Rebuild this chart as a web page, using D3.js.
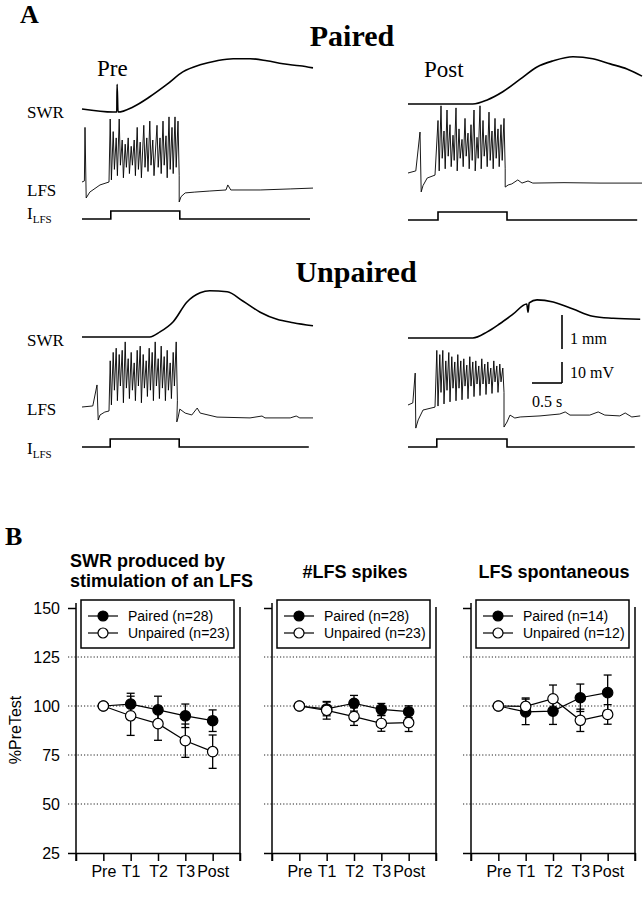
<!DOCTYPE html>
<html>
<head>
<meta charset="utf-8">
<script src="https://cdn.jsdelivr.net/npm/d3@7"></script>
<style>
  body { margin: 0; background: #fff; }
  svg { display: block; }
</style>
</head>
<body>
<svg id="fig" width="643" height="899"></svg>
<script>
// ---------- Panel A data: time in s, SWR in mm, LFS in mV (from rest), I_LFS on/off ----------
const swrPairedPre = [[0,0],[0.52,-0.09],[0.58,-0.09],[0.585,0.73],[0.6,-0.09],[0.85,0.06],[1.13,0.36],[1.42,0.73],[1.68,1.09],[1.97,1.3],[2.25,1.42],[2.52,1.48],[2.8,1.48],[3.08,1.42],[3.35,1.33],[3.63,1.27],[3.85,1.21]];
const swrPairedPost = [[0,0],[1.08,0],[1.32,0.12],[1.58,0.36],[1.87,0.73],[2.15,1.09],[2.42,1.27],[2.75,1.39],[3.08,1.33],[3.37,1.18],[3.65,1.03],[3.9,0.82]];
const swrUnpairedPre = [[0,0],[1.13,0],[1.3,0.15],[1.52,0.45],[1.75,1.03],[1.97,1.3],[2.13,1.36],[2.42,1.33],[2.68,1.06],[2.97,0.73],[3.25,0.52],[3.52,0.42],[3.85,0.33]];
const swrUnpairedPost = [[0,0],[1.08,0],[1.32,0.18],[1.53,0.42],[1.75,0.7],[1.98,1.0],[2.0,0.76],[2.02,1.03],[2.15,1.12],[2.42,1.06],[2.75,0.85],[3.08,0.64],[3.42,0.58],[3.87,0.55]];

// LFS: points before burst, spikes [time, peak, trough], points after burst
const lfsPairedPreStart = [[0,0],[0.04,0.5],[0.05,26],[0.07,-7.6],[0.13,-4.8],[0.3,-1.4],[0.45,0]];
const lfsPairedPreSpikes = [[0.47,30,1],[0.52,24,6],[0.57,21,3],[0.62,30,8],[0.67,20,2],[0.72,18,7],[0.77,21,4],[0.82,17,8],[0.87,20,3],[0.92,26,6],[0.97,19,2],[1.03,27,7],[1.08,21,5],[1.13,29,8],[1.18,20,3],[1.25,27,7],[1.3,21,4],[1.35,29,8],[1.4,22,2],[1.45,31,6],[1.5,26,4],[1.55,31,7],[1.6,29,3]];
const lfsPairedPreEnd = [[1.62,-9.5],[1.65,-7],[1.72,-5.2],[1.88,-4.8],[2.13,-4.3],[2.4,-3.8],[2.43,-1.4],[2.48,-3.8],[2.97,-3.8],[3.47,-3.3],[3.85,-2.9]];

const lfsPairedPostStart = [[0,0],[0.13,1],[0.2,19.5],[0.22,-9],[0.25,-6],[0.32,-2.4],[0.45,-1]];
const lfsPairedPostSpikes = [[0.5,25,1],[0.55,32,7],[0.6,20,2],[0.65,30,8],[0.7,23,3],[0.75,18,6],[0.8,31,1],[0.85,21,7],[0.9,16,3],[0.95,26,8],[1.0,19,2],[1.05,23,6],[1.1,30,1],[1.15,17,7],[1.2,32,2],[1.25,25,8],[1.3,18,3],[1.35,29,6],[1.4,20,2],[1.45,26,7],[1.5,21,3],[1.55,23,6],[1.6,26,2]];
const lfsPairedPostEnd = [[1.62,-6.7],[1.67,-5.7],[1.73,-5.2],[1.83,-3.3],[1.9,-4.8],[2.0,-3.8],[2.08,-4.8],[2.6,-4.6],[3.2,-4.8],[3.9,-4.8]];

const lfsUnpairedPreStart = [[0,0],[0.18,0.5],[0.25,10.5],[0.27,-6.2],[0.3,-3.8],[0.38,-2.4],[0.45,-1.9]];
const lfsUnpairedPreSpikes = [[0.47,22,1],[0.52,26,8],[0.57,28,3],[0.62,25,10],[0.67,27,2],[0.72,31,9],[0.77,23,4],[0.82,26,8],[0.87,21,3],[0.92,27,10],[0.97,29,2],[1.02,25,9],[1.07,22,5],[1.12,28,8],[1.17,26,3],[1.22,31,10],[1.27,23,4],[1.32,29,9],[1.37,24,3],[1.42,27,8],[1.47,21,4],[1.52,26,10],[1.57,31,3]];
const lfsUnpairedPreEnd = [[1.58,-7.1],[1.6,-5.2],[1.63,-1],[1.72,-2.9],[1.83,-3.8],[1.92,-0.5],[1.97,-2.9],[2.25,-4.8],[2.8,-5.2],[3.0,-4.3],[3.05,-5.2],[3.47,-5.2],[3.57,-4.3],[3.63,-5.2],[3.85,-5.2]];

const lfsUnpairedPostStart = [[0,0],[0.08,1],[0.12,15.2],[0.13,-11],[0.17,-7.1],[0.25,-2.4],[0.45,-1]];
const lfsUnpairedPostSpikes = [[0.48,26,-0.5],[0.53,24,6],[0.58,26,0.5],[0.63,21,7],[0.68,25,1.5],[0.73,23,8],[0.78,20.5,2],[0.83,24,8],[0.88,21,2.5],[0.93,22,9],[0.98,19,3],[1.03,23,9],[1.08,20.5,4],[1.13,21,10],[1.18,18.6,4.5],[1.23,22,10],[1.28,19.5,5],[1.33,20.5,10],[1.38,17.6,5.5],[1.43,21,11],[1.48,18.6,6],[1.53,19.5,11],[1.58,17.6,6]];
const lfsUnpairedPostEnd = [[1.6,-10.5],[1.65,-8.1],[1.7,-4.8],[1.78,-6.2],[1.87,-5.7],[2.2,-5.2],[2.53,-4.3],[2.62,-3.3],[2.7,-4.8],[3.03,-4.8],[3.17,-3.3],[3.28,-4.8],[3.53,-5.2],[3.62,-3.8],[3.73,-5.7],[3.87,-5.2]];

const iPairedPre = [[0,0],[0.48,0],[0.48,1],[1.63,1],[1.63,0],[3.8,0]];
const iPairedPost = [[0,0],[0.5,0],[0.5,1],[1.65,1],[1.65,0],[3.82,0]];
const iUnpairedPre = [[0,0],[0.47,0],[0.47,1],[1.62,1],[1.62,0],[3.78,0]];
const iUnpairedPost = [[0,0],[0.48,0],[0.48,1],[1.65,1],[1.65,0],[3.78,0]];

// ---------- Panel B data (% of pre-test, mean and SEM) ----------
const sessions = ["Pre", "T1", "T2", "T3", "Post"];
const yTicks = [150, 125, 100, 75, 50, 25];
const gridValues = [125, 100, 75, 50];

const swrPaired = [100, 101, 98, 95, 92.5];
const swrPairedErr = [0, 5.5, 7, 6, 5.5];
const swrUnpaired = [100, 95, 91, 82.3, 76.7];
const swrUnpairedErr = [0, 10, 8.5, 8.5, 8.5];

const spikesPaired = [100, 98.5, 101.4, 98.3, 97.1];
const spikesPairedErr = [0, 3.5, 4, 3, 3];
const spikesUnpaired = [100, 97.8, 94.6, 91.1, 91.5];
const spikesUnpairedErr = [0, 4.5, 4.5, 4, 4.5];

const spontPaired = [100, 97, 97.4, 104.2, 106.8];
const spontPairedErr = [0, 6.5, 6.8, 7, 9];
const spontUnpaired = [100, 99.8, 103.7, 92.7, 95.7];
const spontUnpairedErr = [0, 4.3, 7, 5.7, 5];

const panelTitles = [["SWR produced by", "stimulation of an LFS"], ["#LFS spikes"], ["LFS spontaneous"]];
const legendPaired = ["Paired (n=28)", "Paired (n=28)", "Paired (n=14)"];
const legendUnpaired = ["Unpaired (n=23)", "Unpaired (n=23)", "Unpaired (n=12)"];

// ---------- drawing ----------
const fig = d3.select("#fig");
const serif = "'Liberation Serif','Times New Roman',serif";
const sans = "'Liberation Sans',Arial,Helvetica,sans-serif";

function label(x, y, txt, size, family, weight, anchor) {
  return fig.append("text")
    .attr("x", x).attr("y", y)
    .attr("font-family", family)
    .attr("font-size", size)
    .attr("font-weight", weight || "normal")
    .attr("text-anchor", anchor || "start")
    .attr("fill", "#000")
    .text(txt);
}

// Panel A headings
label(20, 23, "A", 26, serif, "bold");
label(352, 46, "Paired", 30, serif, "bold", "middle");
label(356, 282, "Unpaired", 30, serif, "bold", "middle");
label(97, 76, "Pre", 23, serif);
label(424, 77, "Post", 23, serif);

// row labels
function rowLabels(ySwr, yLfs, yI) {
  label(27, ySwr, "SWR", 17, serif);
  label(27, yLfs, "LFS", 17, serif);
  const t = label(27, yI, "I", 17, serif);
  t.append("tspan").attr("font-size", 11).attr("dy", 4).text("LFS");
}
rowLabels(118, 196, 219);
rowLabels(346, 415, 454);

const pxPerSec = 60, pxPerMm = 34, pxPerMv = 2.1, pxPerI = 8;

const blocks = [
  {x0: 82,  swrBase: 109, lfsBase: 182, iBase: 219, swr: swrPairedPre,    lfs: [lfsPairedPreStart, lfsPairedPreSpikes, lfsPairedPreEnd],       cur: iPairedPre},
  {x0: 408, swrBase: 104, lfsBase: 173, iBase: 220, swr: swrPairedPost,   lfs: [lfsPairedPostStart, lfsPairedPostSpikes, lfsPairedPostEnd],    cur: iPairedPost},
  {x0: 82,  swrBase: 337, lfsBase: 407, iBase: 447, swr: swrUnpairedPre,  lfs: [lfsUnpairedPreStart, lfsUnpairedPreSpikes, lfsUnpairedPreEnd], cur: iUnpairedPre},
  {x0: 408, swrBase: 338, lfsBase: 405, iBase: 447, swr: swrUnpairedPost, lfs: [lfsUnpairedPostStart, lfsUnpairedPostSpikes, lfsUnpairedPostEnd], cur: iUnpairedPost}
];

let lastScales;
blocks.forEach(b => {
  const x = d3.scaleLinear().domain([0, 4]).range([b.x0, b.x0 + 4 * pxPerSec]);
  const ySwr = d3.scaleLinear().domain([0, 1]).range([b.swrBase, b.swrBase - pxPerMm]);
  const yLfs = d3.scaleLinear().domain([0, 10]).range([b.lfsBase, b.lfsBase - 10 * pxPerMv]);
  const yI = d3.scaleLinear().domain([0, 1]).range([b.iBase, b.iBase - pxPerI]);

  const lfsPts = [
    ...b.lfs[0],
    ...b.lfs[1].flatMap(s => [[s[0], s[1]], [s[0] + 0.02, s[2]]]),
    ...b.lfs[2]
  ];

  fig.append("path")
    .attr("d", d3.line().x(d => x(d[0])).y(d => ySwr(d[1])).curve(d3.curveMonotoneX)(b.swr))
    .attr("fill", "none").attr("stroke", "#000").attr("stroke-width", 1.6);
  fig.append("path")
    .attr("d", d3.line().x(d => x(d[0])).y(d => yLfs(d[1]))(lfsPts))
    .attr("fill", "none").attr("stroke", "#000").attr("stroke-width", 0.9);
  fig.append("path")
    .attr("d", d3.line().x(d => x(d[0])).y(d => yI(d[1]))(b.cur))
    .attr("fill", "none").attr("stroke", "#000").attr("stroke-width", 1.6);

  lastScales = {x, ySwr, yLfs};
});

// scale bars (use scales of the last block)
{
  const {x, ySwr, yLfs} = lastScales;
  const bx = 562;
  const mmLen = ySwr(0) - ySwr(1);
  const mvLen = yLfs(0) - yLfs(10);
  const sLen = x(0.5) - x(0);
  const bars = fig.append("g").attr("stroke", "#000").attr("stroke-width", 1.6);
  bars.append("line").attr("x1", bx).attr("x2", bx).attr("y1", 315).attr("y2", 315 + mmLen);
  bars.append("line").attr("x1", bx).attr("x2", bx).attr("y1", 383 - mvLen).attr("y2", 383);
  bars.append("line").attr("x1", bx - sLen).attr("x2", bx).attr("y1", 383).attr("y2", 383);
  label(570, 344, "1 mm", 16, serif);
  label(570, 378, "10 mV", 16, serif);
  label(532, 407, "0.5 s", 16, serif);
}

// Panel B
label(5, 545, "B", 26, serif, "bold");

const y = d3.scaleLinear().domain([25, 150]).range([853, 608]);
const panelX = [76, 272, 471];
const panelW = 164;
const series = [
  [swrPaired, swrPairedErr, swrUnpaired, swrUnpairedErr],
  [spikesPaired, spikesPairedErr, spikesUnpaired, spikesUnpairedErr],
  [spontPaired, spontPairedErr, spontUnpaired, spontUnpairedErr]
];

panelX.forEach((x0, p) => {
  const x = d3.scaleLinear().domain([0, 6]).range([x0, x0 + panelW]);
  const g = fig.append("g");

  // title
  const titleLines = panelTitles[p];
  if (titleLines.length === 2) {
    titleLines.forEach((t, k) => label(70, 567 + k * 20, t, 18, sans, "bold"));
  } else {
    label(x0 + 83, 578, titleLines[0], 18, sans, "bold", "middle");
  }

  // dotted grid
  g.selectAll(".grid").data(gridValues).enter().append("line")
    .attr("x1", x0 - 8).attr("x2", x0 + panelW)
    .attr("y1", d => y(d)).attr("y2", d => y(d))
    .attr("stroke", "#222").attr("stroke-width", 1).attr("stroke-dasharray", "1.2,2");

  // frame
  const frame = g.append("g").attr("stroke", "#000").attr("stroke-width", 1.5);
  frame.append("line").attr("x1", x0).attr("x2", x0).attr("y1", 603).attr("y2", y(25) + 8);
  frame.append("line").attr("x1", x0 + panelW).attr("x2", x0 + panelW).attr("y1", 607).attr("y2", y(25) + 8);

  // left axis
  const yAxis = d3.axisLeft(y).tickValues([150, 25]).tickSize(8).tickSizeOuter(0).tickPadding(8)
    .tickFormat(p === 0 ? d3.format("d") : () => "");
  const ya = g.append("g").attr("transform", `translate(${x0},0)`).call(yAxis);
  ya.select(".domain").remove();
  ya.selectAll("line").attr("stroke-width", 1.5);
  if (p === 0) {
    const yLab = d3.axisLeft(y).tickValues(gridValues).tickSize(0).tickPadding(16).tickFormat(d3.format("d"));
    const yl = g.append("g").attr("transform", `translate(${x0},0)`).call(yLab);
    yl.select(".domain").remove();
    g.selectAll("text").attr("font-family", sans).attr("font-size", 16).attr("fill", "#000");
  }

  // bottom axis
  const xAxis = d3.axisBottom(x).tickValues([0, 1, 2, 3, 4, 5, 6]).tickSize(8).tickSizeOuter(0).tickPadding(5)
    .tickFormat(i => sessions[i - 1] || "");
  const xa = g.append("g").attr("transform", `translate(0,${y(25)})`).call(xAxis);
  xa.select(".domain").attr("stroke-width", 1.5);
  xa.selectAll("line").attr("stroke-width", 1.5);
  xa.selectAll("text").attr("font-family", sans).attr("font-size", 16).attr("fill", "#000");

  // legend
  const lg = g.append("g");
  lg.append("rect").attr("x", x0 + 5).attr("y", 600).attr("width", 153).attr("height", 48)
    .attr("fill", "#fff").attr("stroke", "#000").attr("stroke-width", 1.5);
  [[616, "#000", legendPaired[p]], [633, "#fff", legendUnpaired[p]]].forEach(([ly, fill, txt]) => {
    lg.append("line").attr("x1", x0 + 12).attr("x2", x0 + 42).attr("y1", ly).attr("y2", ly)
      .attr("stroke", "#000").attr("stroke-width", 1.2);
    lg.append("circle").attr("cx", x0 + 27).attr("cy", ly).attr("r", 5)
      .attr("fill", fill).attr("stroke", "#000").attr("stroke-width", 1.2);
    lg.append("text").attr("x", x0 + 52).attr("y", ly + 5).attr("font-family", sans)
      .attr("font-size", 14).attr("fill", "#000").text(txt);
  });

  // data series: paired first, unpaired on top
  const [pv, pe, uv, ue] = series[p];
  [[pv, pe, "#000"], [uv, ue, "#fff"]].forEach(([vals, errs, fill]) => {
    const pts = vals.map((v, i) => ({i: i + 1, v, e: errs[i]}));
    const s = g.append("g");
    s.append("path")
      .attr("d", d3.line().x(d => x(d.i)).y(d => y(d.v))(pts))
      .attr("fill", "none").attr("stroke", "#000").attr("stroke-width", 1.2);
    const eb = s.selectAll(".err").data(pts.filter(d => d.e > 0)).enter().append("g")
      .attr("stroke", "#000").attr("stroke-width", 1.3);
    eb.append("line").attr("x1", d => x(d.i)).attr("x2", d => x(d.i))
      .attr("y1", d => y(d.v - d.e)).attr("y2", d => y(d.v + d.e));
    eb.append("line").attr("x1", d => x(d.i) - 4).attr("x2", d => x(d.i) + 4)
      .attr("y1", d => y(d.v - d.e)).attr("y2", d => y(d.v - d.e));
    eb.append("line").attr("x1", d => x(d.i) - 4).attr("x2", d => x(d.i) + 4)
      .attr("y1", d => y(d.v + d.e)).attr("y2", d => y(d.v + d.e));
    s.selectAll("circle").data(pts).enter().append("circle")
      .attr("cx", d => x(d.i)).attr("cy", d => y(d.v)).attr("r", 5.2)
      .attr("fill", fill).attr("stroke", "#000").attr("stroke-width", 1.2);
  });
});

// y-axis title
fig.append("text")
  .attr("transform", "translate(21,730) rotate(-90)")
  .attr("text-anchor", "middle")
  .attr("font-family", sans).attr("font-size", 16).attr("fill", "#000")
  .text("%PreTest");
</script>
</body>
</html>
